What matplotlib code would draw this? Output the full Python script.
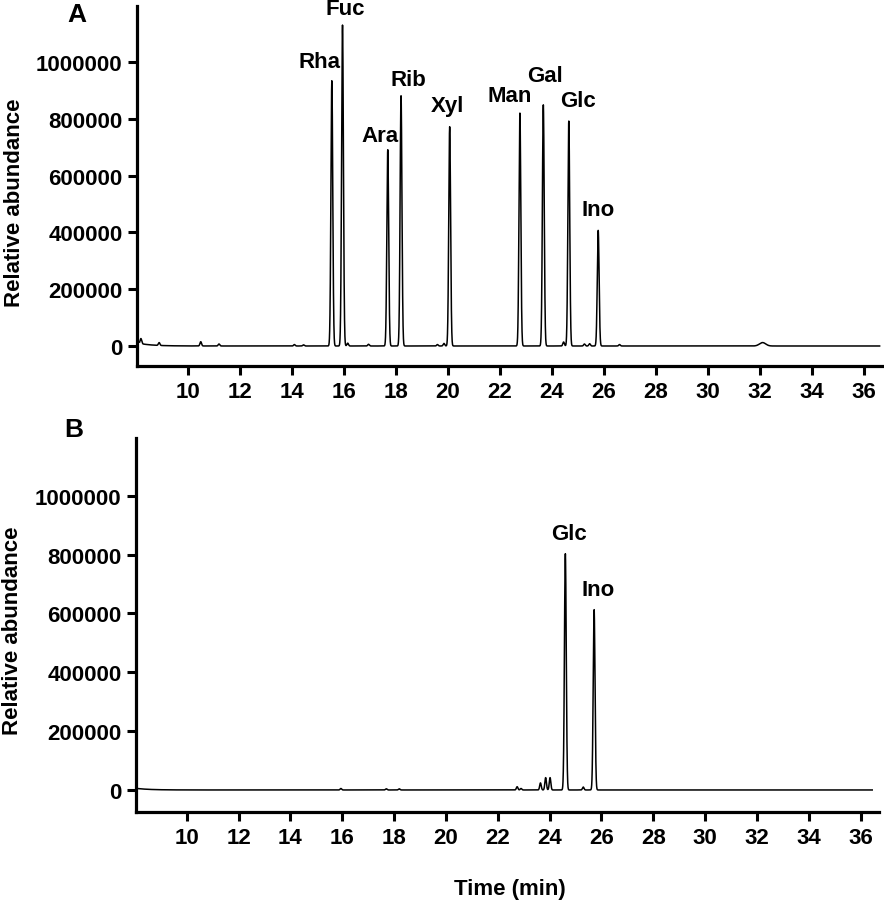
import matplotlib
matplotlib.use("Agg")
import matplotlib.pyplot as plt
import numpy as np

plt.rcParams['font.family'] = ['Liberation Sans', 'DejaVu Sans']
plt.rcParams['font.weight'] = 'bold'

# panel A: standards (retention time in min, height)
a_names = ["Rha", "Fuc", "Ara", "Rib", "Xyl", "Man", "Gal", "Glc", "Ino"]
a_times = [15.54, 15.95, 17.69, 18.20, 20.07, 22.77, 23.67, 24.65, 25.78]
a_heights = [934000, 1130000, 691000, 881000, 772000, 820000, 849000, 792000, 407000]
a_label_x = [15.08, 16.07, 17.38, 18.47, 19.97, 22.38, 23.72, 25.00, 25.77]
a_label_y = [1003000, 1187000, 740000, 937000, 846000, 881000, 952000, 864000, 479000]
# small peaks in A
a_minor_t = [8.2, 8.9, 10.5, 11.2, 14.1, 14.45, 16.15, 16.95, 19.6, 19.85, 24.45, 25.25, 25.45, 26.6]
a_minor_h = [18000, 10000, 15000, 7000, 5000, 4000, 10000, 6000, 5000, 9000, 14000, 7000, 8000, 5000]
a_start = 10000

# panel B: sample
b_names = ["Glc", "Ino"]
b_times = [24.61, 25.72]
b_heights = [803000, 613000]
b_label_x = [24.74, 25.86]
b_label_y = [871000, 680000]
b_minor_t = [15.95, 17.7, 18.2, 22.75, 22.9, 23.65, 23.85, 24.02, 25.3]
b_minor_h = [5000, 4000, 4000, 11000, 5000, 24000, 42000, 42000, 10000]
b_start = 5000

xticks = list(range(10, 37, 2))
yticks = [0, 200000, 400000, 600000, 800000, 1000000]


def trace(t, times, heights, mt, mh, start, broad=None):
    y = np.zeros_like(t)
    for c, h in zip(times, heights):
        y += h * np.exp(-0.5 * ((t - c) / 0.035) ** 2)
    for c, h in zip(mt, mh):
        y += h * np.exp(-0.5 * ((t - c) / 0.03) ** 2)
    if broad:
        c, h, w = broad
        y += h * np.exp(-0.5 * ((t - c) / w) ** 2)
    # slight elevated start of the run
    y += start * np.exp(-(t - 8.1) / 0.5) * (t > 8.1)
    return y


fig = plt.figure(figsize=(8.84, 9.03), dpi=100)
axA = fig.add_axes([0.155, 0.5936, 0.843, 0.3986])
axB = fig.add_axes([0.154, 0.0997, 0.840, 0.4143])

tA = np.linspace(8.15, 36.6, 20000)
yA = trace(tA, a_times, a_heights, a_minor_t, a_minor_h, a_start, broad=(32.1, 12000, 0.12))
axA.plot(tA, yA, color='black', lw=1.1)

tB = np.linspace(8.15, 36.45, 20000)
yB = trace(tB, b_times, b_heights, b_minor_t, b_minor_h, b_start)
axB.plot(tB, yB, color='black', lw=1.1)

for name, x, y in zip(a_names, a_label_x, a_label_y):
    axA.text(x, y, name, ha='center', va='center', fontsize=16, fontweight='bold')
for name, x, y in zip(b_names, b_label_x, b_label_y):
    axB.text(x, y, name, ha='center', va='center', fontsize=16, fontweight='bold')

for ax, ylo, lab_x, lab_y in [(axA, -70400, -0.150, 0.456), (axB, -74800, -0.153, 0.487)]:
    ax.set_xlim(8.05, 36.7)
    ax.set_ylim(ylo, 1197000)
    ax.set_xticks(xticks)
    ax.set_yticks(yticks)
    ax.set_yticklabels([str(v) for v in yticks])
    for s in ['top', 'right']:
        ax.spines[s].set_visible(False)
    for s in ['left', 'bottom']:
        ax.spines[s].set_linewidth(2.3)
    ax.tick_params(axis='both', length=6.5, width=2.2, labelsize=16, direction='out')
    ax.tick_params(axis='y', pad=4)
    ax.tick_params(axis='x', pad=4)
    for lab in ax.get_xticklabels() + ax.get_yticklabels():
        lab.set_fontweight('bold')
    ax.set_ylabel('Relative abundance', fontsize=16, fontweight='bold')
    ax.yaxis.set_label_coords(lab_x, lab_y)

fig.text(77 / 884, 1 - 15 / 903, 'A', ha='center', va='center', fontsize=19, fontweight='bold')
fig.text(74 / 884, 1 - 430 / 903, 'B', ha='center', va='center', fontsize=19, fontweight='bold')
fig.text(510 / 884, 1 - 890 / 903, 'Time (min)', ha='center', va='center', fontsize=16, fontweight='bold')

fig.savefig('out.png', dpi=100)
